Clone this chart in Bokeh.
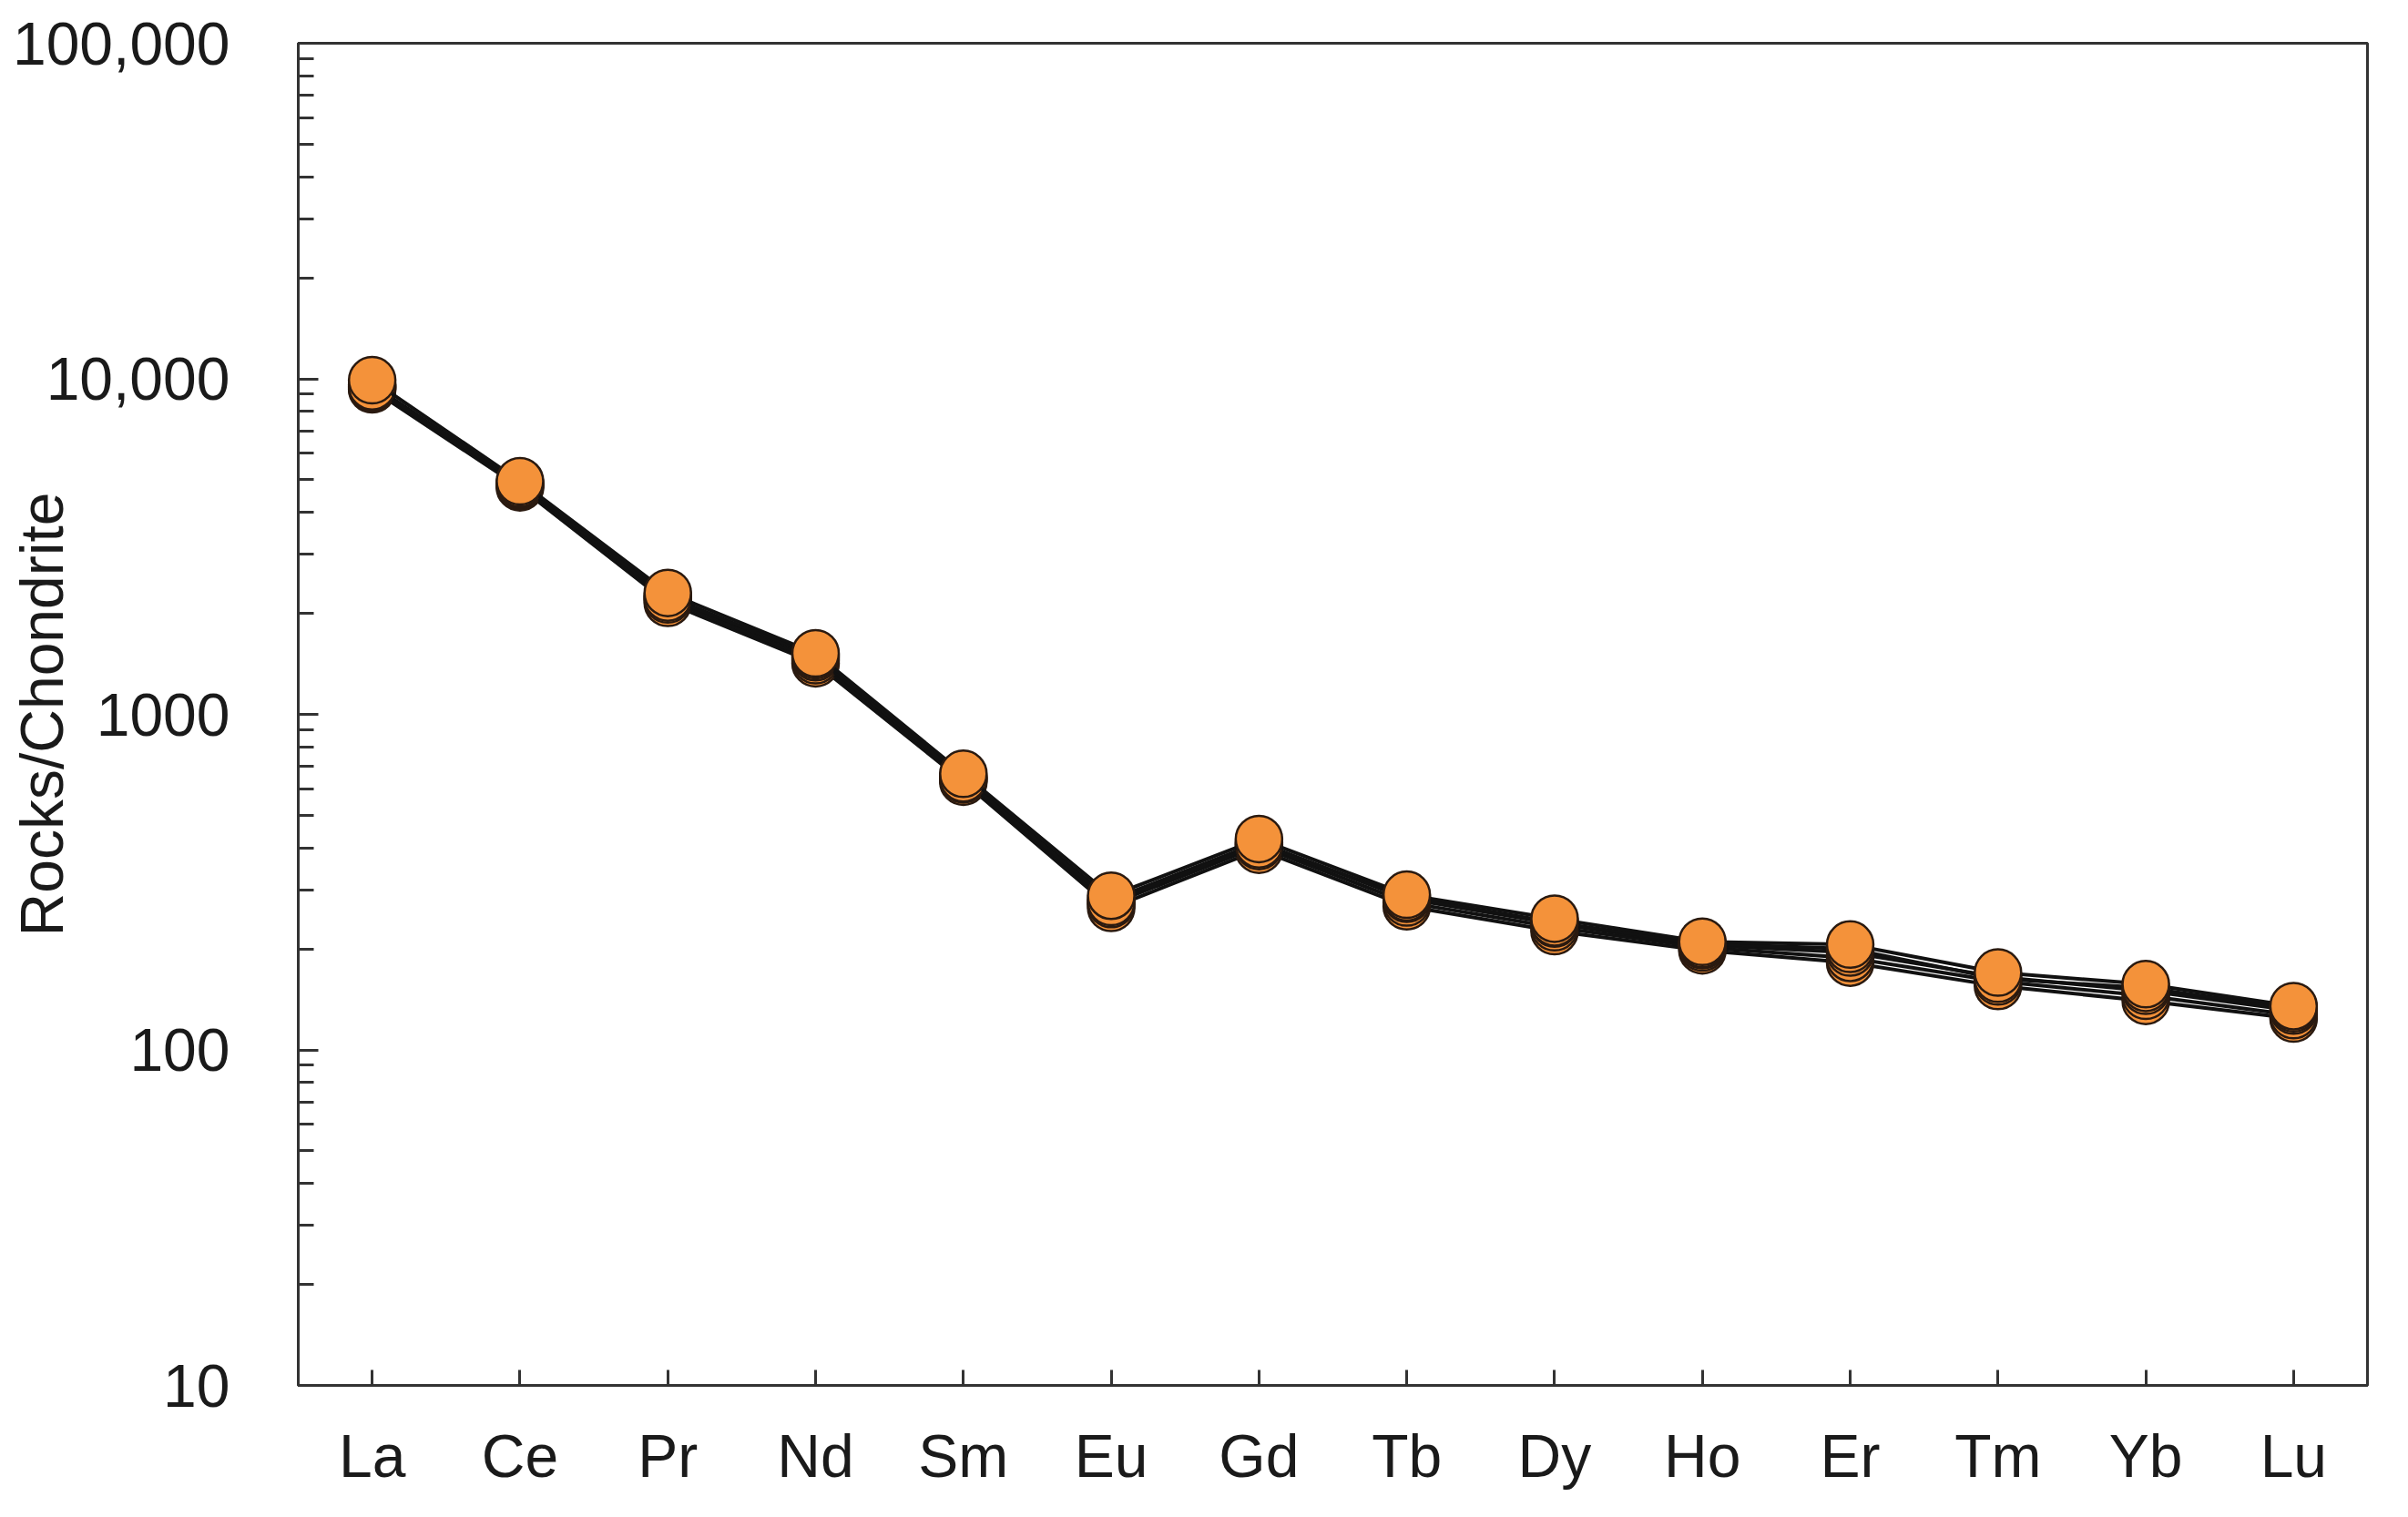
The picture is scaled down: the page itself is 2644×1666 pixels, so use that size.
from bokeh.plotting import figure
from bokeh.models import Range1d, FactorRange, FixedTicker, CustomJSTickFormatter
from bokeh.embed import file_html
from bokeh.resources import INLINE

elements = ["La", "Ce", "Pr", "Nd", "Sm", "Eu", "Gd", "Tb", "Dy", "Ho", "Er", "Tm", "Yb", "Lu"]

# samples drawn back to front (last one is the front-most)
sample_4 = [9300, 4750, 2150, 1420, 630, 265, 395, 268, 226, 198, 182, 155, 140, 124]
sample_3 = [9400, 4800, 2200, 1450, 640, 272, 405, 275, 232, 202, 188, 160, 145, 127]
sample_2 = [9600, 4850, 2250, 1480, 650, 280, 415, 282, 238, 205, 195, 165, 150, 131]
sample_5 = [9500, 4880, 2230, 1500, 645, 276, 410, 285, 240, 207, 200, 163, 153, 133]
sample_1 = [9900, 4950, 2300, 1520, 665, 288, 425, 290, 246, 210, 206, 170, 157, 135]
samples = [sample_4, sample_3, sample_2, sample_5, sample_1]

y_major = [10, 100, 1000, 10000, 100000]
y_minor = [m * d for d in [10, 100, 1000, 10000] for m in range(2, 10)]

FONT = "Liberation Sans"
FS = "66px"
TXT = "#1a1a1a"

p = figure(
    width=2628, height=1650,
    x_range=FactorRange(*elements),
    y_range=Range1d(10, 100000),
    y_axis_type="log",
    output_backend="svg", toolbar_location=None,
    min_border_left=327, min_border_right=29,
    min_border_top=47, min_border_bottom=129,
)
p.grid.visible = False
p.outline_line_color = "#333333"
p.outline_line_width = 3
p.background_fill_color = "white"
p.border_fill_color = "white"

for s in samples:
    p.line(elements, s, line_color="#111111", line_width=4)
    p.scatter(elements, s, size=51, fill_color="#F4923A", line_color="#2a1a10", line_width=2.5)

# y axis
ya = p.yaxis[0]
ya.ticker = FixedTicker(ticks=y_major, minor_ticks=y_minor)
ya.formatter = CustomJSTickFormatter(code="""
return tick >= 10000 ? Math.round(tick).toLocaleString('en-US') : String(Math.round(tick));
""")
ya.major_tick_in = 22
ya.major_tick_out = 0
ya.minor_tick_in = 17
ya.minor_tick_out = 0
ya.major_tick_line_width = 3
ya.minor_tick_line_width = 3
ya.major_tick_line_color = "#333333"
ya.minor_tick_line_color = "#333333"
ya.axis_line_width = 3
ya.axis_line_color = "#333333"
ya.major_label_text_font = FONT
ya.major_label_text_font_size = FS
ya.major_label_text_color = TXT
ya.major_label_standoff = 75
ya.axis_label = "Rocks/Chondrite"
ya.axis_label_text_font = FONT
ya.axis_label_text_font_size = FS
ya.axis_label_text_font_style = "normal"
ya.axis_label_text_color = TXT
ya.axis_label_standoff = -72

# x axis
xa = p.xaxis[0]
xa.major_tick_in = 17
xa.major_tick_out = 0
xa.major_tick_line_width = 3
xa.major_tick_line_color = "#333333"
xa.axis_line_width = 3
xa.axis_line_color = "#333333"
xa.major_label_text_font = FONT
xa.major_label_text_font_size = FS
xa.major_label_text_color = TXT
xa.major_label_standoff = 40

open("out.html", "w").write(file_html(p, INLINE))
